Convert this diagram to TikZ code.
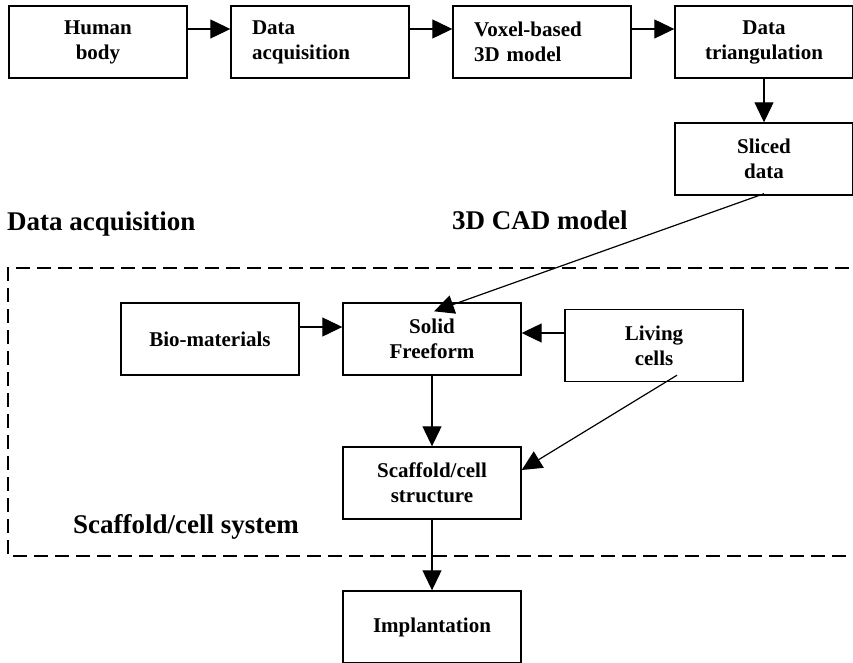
\documentclass[tikz,border=0pt]{standalone}
\usepackage{fontspec}
\setmainfont{Liberation Serif}
\usetikzlibrary{arrows.meta,positioning}
\begin{document}
\begin{tikzpicture}[x=1pt,y=-1pt,node distance=222pt]
		% Styles
		\tikzstyle{block} = [rectangle, minimum width=178pt, minimum height=72pt, inner sep=0pt, align=center, draw=black, line width=1.4pt, font=\fontsize{21}{25}\selectfont\bfseries]
		\tikzstyle{leftblock} = [block, text width=136pt, align=left]
		\tikzstyle{caption} = [anchor=base west, inner sep=0pt, font=\fontsize{27}{32}\selectfont\bfseries]
		\tikzstyle{arrow} = [line width=1.2pt,-{Triangle[length=20pt,width=19pt]}]
		\tikzstyle{frame} = [line width=1.4pt, dash pattern=on 14pt off 7pt]
		\useasboundingbox (0,0) rectangle (853,663);
		% Nodes
		\node (human) [block] at (98,42) {Human\\body};
		\node (acq) [leftblock, right of=human] {Data\\acquisition};
		\node (voxel) [leftblock, right of=acq] {Voxel-based\\3D model};
		\node (tri) [block, right of=voxel] {Data\\triangulation};
		\node (sliced) [block, node distance=117pt, below of=tri] {Sliced\\data};
		\node (solid) [block] at (432,339) {Solid\\Freeform};
		\node (bio) [block, left of=solid] {Bio-materials};
		\node (living) [block] at (654,345.5) {Living\\cells};
		\node (scaffold) [block, node distance=144pt, below of=solid] {Scaffold/cell\\structure};
		\node (impl) [block, node distance=144pt, below of=scaffold] {Implantation};
		% Captions
		\node (capacq) [caption] at (7,230) {Data acquisition};
		\node (capcad) [caption] at (452,229) {3D CAD model};
		\node (capsys) [caption] at (73,533) {Scaffold/cell system};
		% Frame
		\draw [frame] (870,268) -- (8,268) -- (8,556) -- (870,556);
		% Arrows
		\draw [arrow] ([yshift=13pt]human.east) -- ([yshift=13pt]acq.west);
		\draw [arrow] ([yshift=13pt]acq.east) -- ([yshift=13pt]voxel.west);
		\draw [arrow] ([yshift=13pt]voxel.east) -- ([yshift=13pt]tri.west);
		\draw [arrow] (tri) -- (sliced);
		\draw [arrow] ([yshift=2pt]sliced.south) -- ([xshift=2pt,yshift=-9pt]solid.north);
		\draw [arrow] ([yshift=12pt]bio.east) -- ([yshift=12pt]solid.west);
		\draw [arrow] ([yshift=12.5pt]living.west) -- ([yshift=12.5pt]living.west -| solid.east);
		\draw [arrow] (solid) -- (scaffold);
		\draw [arrow] ([xshift=23pt,yshift=7pt]living.south) -- ([yshift=13pt]scaffold.east);
		\draw [arrow] (scaffold) -- (impl);
	\end{tikzpicture}
\end{document}
